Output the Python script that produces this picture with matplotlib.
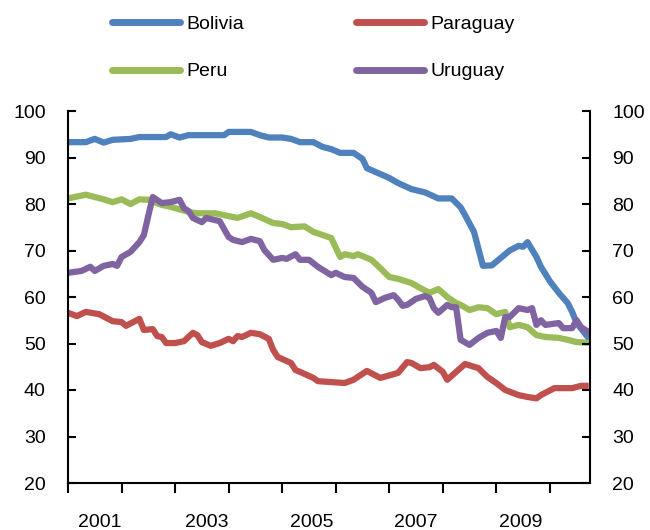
import matplotlib
matplotlib.use("Agg")
import matplotlib.pyplot as plt
import numpy as np

plt.rcParams['font.family'] = ['Liberation Sans', 'DejaVu Sans']

# monthly readings, months counted from Jan 2001
bolivia_m = [0, 4, 6, 8, 10, 14, 16, 22, 23, 25, 27, 35, 36, 41, 43, 45, 48, 50, 52, 55,
             57, 59, 61, 64, 66, 67, 72, 74, 77, 80, 83, 86, 88, 89, 91, 93, 95, 97, 99, 101,
             102, 103, 105, 106, 108, 110, 112, 113, 114, 117]
bolivia = [93.3, 93.3, 94, 93.2, 93.8, 94, 94.4, 94.4, 95, 94.3, 94.8, 94.8, 95.5, 95.5, 94.8,
           94.3, 94.3, 94, 93.3, 93.3, 92.3, 91.8, 91, 91, 89.7, 87.7, 85.6, 84.5, 83.2, 82.5,
           81.2, 81.2, 79.3, 77.6, 74, 66.7, 66.8, 68.4, 70, 71, 70.8, 71.8, 68.6, 66.5, 63.4,
           60.9, 58.7, 56.8, 54.4, 50.8]

paraguay_m = [0, 2, 4, 7, 10, 12, 13, 16, 17, 19, 20, 21, 22, 24, 26, 28, 29, 30, 32, 34,
              36, 37, 38, 39, 41, 43, 45, 46, 47, 50, 51, 52, 55, 56, 59, 62, 64, 67, 70, 73,
              74, 76, 77, 79, 81, 82, 84, 85, 87, 89, 92, 94, 96, 98, 101, 103, 105, 106, 109,
              113, 115, 116]
paraguay = [56.6, 55.9, 56.8, 56.3, 54.8, 54.6, 53.8, 55.3, 52.9, 53.1, 51.6, 51.4, 50.1, 50.1,
            50.5, 52.3, 51.8, 50.3, 49.5, 50.1, 51, 50.5, 51.6, 51.4, 52.3, 52, 51, 48.6, 47.1,
            45.8, 44.3, 43.9, 42.6, 41.9, 41.7, 41.5, 42.2, 44.1, 42.6, 43.4, 43.7, 46, 45.8,
            44.7, 44.9, 45.4, 43.9, 42.2, 43.9, 45.6, 44.7, 42.8, 41.5, 40, 38.9, 38.5, 38.2,
            38.9, 40.4, 40.4, 40.9, 40.9]

peru_m = [0, 4, 8, 10, 12, 14, 16, 18, 21, 23, 27, 29, 33, 38, 41, 43, 46, 48, 50, 53,
          55, 59, 61, 62, 64, 65, 68, 70, 72, 74, 77, 79, 81, 83, 85, 87, 88, 90, 92, 94,
          96, 98, 99, 101, 103, 105, 107, 110, 112, 114, 116]
peru = [81.2, 82, 81, 80.4, 81, 80, 81, 80.9, 79.8, 79.4, 78.3, 78, 78, 77, 78, 77.2, 75.9,
        75.7, 75, 75.2, 74, 72.7, 68.6, 69.2, 68.8, 69.2, 68, 66.2, 64.3, 63.9, 63, 61.9, 60.9,
        61.7, 60, 58.7, 58.3, 57.2, 57.8, 57.6, 56.3, 56.8, 53.5, 54, 53.5, 51.8, 51.4, 51.2,
        50.8, 50.3, 50.2]

uruguay_m = [0, 3, 5, 6, 8, 10, 11, 12, 14, 16, 17, 18, 19, 21, 23, 25, 26, 27, 28, 30,
             31, 34, 36, 37, 39, 41, 43, 44, 46, 48, 49, 51, 52, 54, 56, 59, 60, 62, 64, 66,
             68, 69, 71, 73, 74, 75, 76, 78, 80, 81, 82, 83, 85, 86, 87, 88, 90, 92, 94, 96,
             97, 98, 99, 101, 103, 104, 105, 106, 107, 110, 111, 113, 114, 115, 117]
uruguay = [65.2, 65.6, 66.5, 65.6, 66.7, 67.1, 66.7, 68.6, 69.7, 71.8, 73.3, 77.5, 81.5, 80.2,
           80.4, 80.9, 79.1, 78.5, 77, 76.1, 77, 76.3, 72.9, 72.3, 71.8, 72.5, 72, 70.1, 68,
           68.4, 68.2, 69.2, 68, 68, 66.5, 64.7, 65.2, 64.3, 64.1, 62.2, 60.9, 58.9, 59.8, 60.4,
           59.4, 58.1, 58.3, 59.6, 60.2, 59.8, 57.6, 56.6, 58.3, 57.8, 57.8, 50.8, 49.7, 51.2,
           52.3, 52.7, 51.2, 55.7, 55.7, 57.6, 57.2, 57.6, 54, 55, 54, 54.4, 53.3, 53.3, 55,
           53.5, 52.3]

year_labels = ['2001', '2003', '2005', '2007', '2009']
yticks = [20, 30, 40, 50, 60, 70, 80, 90, 100]


def to_year(months):
    return 2001 + np.array(months) / 12.0


fig = plt.figure(figsize=(6.5, 5.3), dpi=100)
ax = fig.add_axes([68 / 650, 1 - 483 / 530, 522 / 650, 372 / 530])

lw = 4.5
l_bol, = ax.plot(to_year(bolivia_m), bolivia, color='#4F81BD', lw=lw, solid_joinstyle='round')
l_par, = ax.plot(to_year(paraguay_m), paraguay, color='#C0504D', lw=lw, solid_joinstyle='round')
l_per, = ax.plot(to_year(peru_m), peru, color='#9BBB59', lw=lw, solid_joinstyle='round')
l_uru, = ax.plot(to_year(uruguay_m), uruguay, color='#8064A2', lw=lw, solid_joinstyle='round')

ax.set_xlim(2001, 2001 + 117 / 12)
ax.set_ylim(20, 100)
ax.set_yticks(yticks)
ax.tick_params(axis='y', direction='in', length=6, width=1.5, pad=16, labelsize=14)

ax.set_xticks(range(2001, 2011))
ax.set_xticklabels([])
ax.set_xticks([2001.6, 2003.6, 2005.55, 2007.5, 2009.45], minor=True)
ax.set_xticklabels(year_labels, minor=True)
ax.tick_params(axis='x', which='major', direction='out', length=7, width=1.5)
ax.tick_params(axis='x', which='minor', length=0, pad=22, labelsize=14)

ax.spines['top'].set_visible(False)
ax.spines['right'].set_visible(False)
for s in ['left', 'bottom']:
    ax.spines[s].set_linewidth(1.5)

ax2 = ax.twinx()
ax2.set_ylim(20, 100)
ax2.set_yticks(yticks)
ax2.tick_params(axis='y', direction='in', length=6, width=1.5, pad=16, labelsize=14)
for s in ['top', 'left', 'bottom']:
    ax2.spines[s].set_visible(False)
ax2.spines['right'].set_linewidth(1.5)

# two columns: Bolivia/Peru on the left, Paraguay/Uruguay on the right
leg = fig.legend([l_bol, l_per, l_par, l_uru], ['Bolivia', 'Peru', 'Paraguay', 'Uruguay'],
                 ncol=2, loc='upper left', bbox_to_anchor=(112 / 650, 1 - 15 / 530),
                 frameon=False, fontsize=14, handlelength=3.5, handletextpad=0.3,
                 columnspacing=5.8, labelspacing=1.55, borderpad=0, borderaxespad=0)
for line in leg.get_lines():
    line.set_linewidth(5)
    line.set_solid_capstyle('round')

fig.savefig('out.png', dpi=100)
